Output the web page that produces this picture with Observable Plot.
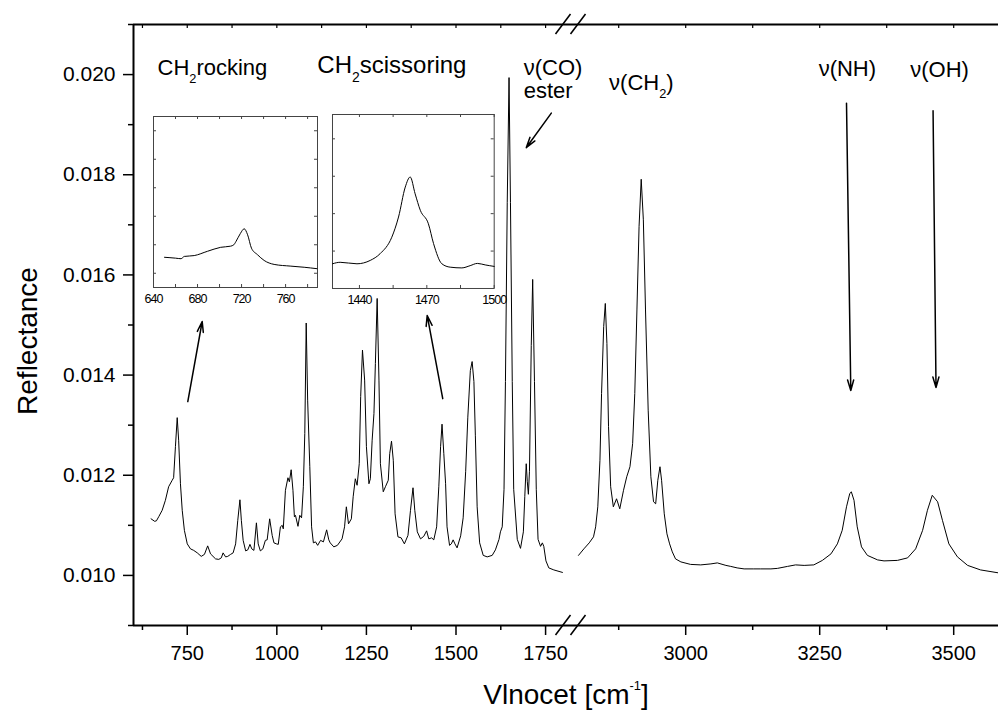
<!DOCTYPE html>
<html><head><meta charset="utf-8">
<script src="https://cdn.jsdelivr.net/npm/d3@7"></script>
<script src="https://cdn.jsdelivr.net/npm/@observablehq/plot@0.6"></script>
<style>
body{margin:0;background:#fff;}
#wrap{position:relative;width:998px;height:711px;overflow:hidden;background:#fff;}
#wrap svg{position:absolute;}
</style></head><body><div id="wrap"></div>
<script>
// ---------- data ----------
const leftW = [649,659,664,671,680,689,698,708,712,717,
  722,726,731,736,742,750,759,768,778,789,
  798,807,815,829,838,845,850,857,863,871,
  878,885,891,897,901,906,913,919,925,930,
  936,943,948,954,961,968,973,980,987,992,
  999,1004,1010,1015,1018,1024,1031,1035,1040,1045,
  1049,1052,1059,1064,1069,1074,1078,1082,1086,1092,
  1097,1102,1108,1114,1122,1130,1139,1145,1149,1159,
  1169,1182,1189,1194,1200,1208,1213,1219,1224,1230,
  1234,1239,1245,1250,1257,1261,1266,1271,1275,1280,
  1285,1289,1297,1303,1311,1315,1320,1325,1330,1338,
  1347,1356,1366,1373,1380,1385,1392,1401,1410,1418,
  1424,1432,1438,1446,1452,1457,1461,1466,1471,1475,
  1482,1487,1492,1497,1503,1513,1520,1527,1533,1540,
  1545,1550,1554,1559,1566,1576,1587,1601,1610,1620,
  1624,1629,1634,1638,1643,1648,1652,1657,1661,1671,
  1680,1688,1692,1696,1699,1702,1705,1710,1714,1719,
  1724,1729,1736,1741,1745,1751,1759,1773,1797];
const leftR = [.01113,.01108,.01109,.01118,.01130,.01150,.01177,.01190,.01195,.01257,
  .01315,.01270,.01183,.01130,.01090,.01063,.01053,.01050,.01045,.01038,
  .01042,.01059,.01043,.01033,.01032,.01035,.01045,.01037,.01038,.01042,
  .01045,.01063,.01110,.01151,.01110,.01070,.01049,.01051,.01062,.01053,
  .01050,.01105,.01063,.01049,.01053,.01070,.01071,.01113,.01080,.01065,
  .01063,.01062,.01097,.01100,.01093,.01170,.01195,.01187,.01211,.01170,
  .01117,.01120,.01098,.01120,.01115,.01177,.01283,.01504,.01350,.01217,
  .01097,.01065,.01067,.01060,.01070,.01067,.01091,.01071,.01065,.01057,
  .01060,.01073,.01097,.01137,.01103,.01113,.01157,.01193,.01180,.01223,
  .01357,.01450,.01390,.01257,.01183,.01193,.01270,.01323,.01423,.01553,
  .01390,.01223,.01167,.01177,.01190,.01243,.01268,.01230,.01123,.01077,
  .01075,.01063,.01080,.01130,.01175,.01130,.01087,.01073,.01078,.01089,
  .01073,.01075,.01071,.01097,.01177,.01257,.01302,.01243,.01183,.01097,
  .01060,.01063,.01071,.01063,.01055,.01079,.01115,.01208,.01316,.01409,
  .01427,.01387,.01280,.01137,.01065,.01040,.01037,.01040,.01051,.01072,
  .01087,.01097,.01172,.01387,.01745,.01994,.01745,.01387,.01172,.01072,
  .01054,.01087,.01158,.01223,.01187,.01162,.01208,.01459,.01591,.01387,
  .01172,.01072,.01058,.01065,.01058,.01029,.01015,.01011,.01006];
const rightW = [2799,2810,2820,2828,2832,2836,2840,2843,2847,2850,
  2853,2856,2860,2865,2871,2877,2884,2890,2896,2901,
  2905,2909,2913,2917,2921,2925,2930,2935,2940,2944,
  2948,2952,2955,2960,2965,2970,2975,2981,2991,3009,
  3028,3047,3059,3075,3084,3096,3109,3127,3140,3159,
  3171,3190,3205,3221,3239,3255,3271,3283,3292,3300,
  3306,3309,3314,3320,3328,3339,3358,3370,3395,3414,
  3429,3442,3451,3460,3470,3479,3491,3507,3526,3550,3584];
const rightR = [.01040,.01053,.01065,.01077,.01097,.01137,.01230,.01363,.01497,.01543,
  .01463,.01297,.01177,.01137,.01153,.01133,.01170,.01197,.01217,.01263,
  .01363,.01530,.01697,.01791,.01710,.01530,.01330,.01197,.01147,.01143,
  .01190,.01217,.01190,.01123,.01083,.01063,.01047,.01033,.01027,.01022,
  .01021,.01023,.01025,.01020,.01018,.01015,.01013,.01013,.01013,.01013,
  .01014,.01018,.01021,.01020,.01021,.01030,.01043,.01063,.01090,.01137,
  .01163,.01167,.01150,.01097,.01057,.01040,.01031,.01029,.01030,.01035,
  .01053,.01090,.01130,.01160,.01147,.01110,.01063,.01037,.01020,.01011,.01005];

// inset spectra (arbitrary units)
const rockW = [650,660,665,668,677,689,701,710,713,715,719,722.4,725.5,729,734.5,740.5,749.6,764.8,776.9,788.5];
const rockR = [1.06,1.03,1.01,1.09,1.12,1.27,1.41,1.45,1.50,1.62,1.90,2.06,1.85,1.38,1.15,0.95,0.81,0.75,0.71,0.66];
const scisW = [1428,1431.4,1438.9,1444.8,1449.2,1454.4,1457.4,1460.4,1462.6,1464.8,1467.1,1470.7,1473,1476.7,1480.4,1485.6,1489.3,1492.5,1496,1500];
const scisR = [0.66,0.70,0.66,0.75,0.93,1.37,1.91,2.71,2.98,2.53,2.09,1.73,1.20,0.66,0.57,0.55,0.61,0.67,0.63,0.59];

// axes
const xSegments = [[600, 1800], [2800, 3600]];
const xMajor = [750, 1000, 1250, 1500, 1750, 3000, 3250, 3500];
const xMinor = [625, 875, 1125, 1375, 1625, 2875, 3125, 3375];
const yDomain = [0.009, 0.021];
const yMajor = [0.010, 0.012, 0.014, 0.016, 0.018, 0.020];
const yMinor = [0.009, 0.011, 0.013, 0.015, 0.017, 0.019, 0.021];
const xTitle = "Vlnocet [cm⁻¹]";
const yTitle = "Reflectance";

// annotations
const annText = ["CH₂rocking", "CH₂scissoring", "ν(CO)", "ester", "ν(CH₂)", "ν(NH)", "ν(OH)"];
const annX = [667, 1113, 1689, 1689, 2857, 3248, 3419];
const annY = [0.02000, 0.02003, 0.02000, 0.01954, 0.01970, 0.01998, 0.01996];
const annSize = [22, 24, 22, 22, 22, 22, 22];
const arrX1 = [751.5, 1463, 1766, 3300, 3461.5];
const arrY1 = [0.01347, 0.01353, 0.01923, 0.01943, 0.01928];
const arrX2 = [791.7, 1419.6, 1696, 3308, 3467];
const arrY2 = [0.01507, 0.01519, 0.01854, 0.01369, 0.01375];

// inset axes
const rockDomainX = [640, 789], rockDomainY = [0, 6];
const rockTicksAll = [640, 660, 680, 700, 720, 740, 760, 780];
const rockTicksLab = [640, 680, 720, 760];
const rockTicksY = [0.5, 1.5, 2.5, 3.5, 4.5, 5.5];
const scisDomainX = [1428, 1500], scisDomainY = [0, 4.65];
const scisTicksAll = [1440, 1455, 1470, 1485, 1500];
const scisTicksLab = [1440, 1470, 1500];
const scisTicksY = [1, 2, 3, 4];

// ---------- rendering ----------
const FONT = '"Liberation Sans", Arial, Helvetica, sans-serif';
const wrap = document.getElementById("wrap");
const rows = (w, r) => w.map((d, i) => ({w: d, r: r[i]}));
const leftData = rows(leftW, leftR), rightData = rows(rightW, rightR);
const ann = annText.map((t, i) => ({t, x: annX[i], y: annY[i], s: annSize[i]}));
const arrows = arrX1.map((d, i) => ({x1: d, y1: arrY1[i], x2: arrX2[i], y2: arrY2[i]}));

const chart = Plot.plot({
  width: 998, height: 711,
  marginLeft: 133, marginRight: 0, marginTop: 24, marginBottom: 86,
  style: {fontFamily: FONT, fontSize: "20px", background: "transparent", color: "black", overflow: "visible"},
  x: {type: "linear", domain: [xSegments[0][0], xSegments[0][1], xSegments[1][0], xSegments[1][1]], range: [133, 563, 578, 1006.8]},
  y: {domain: yDomain, range: [625, 24]},
  marks: [
    Plot.ruleX([xSegments[0][0]], {strokeWidth: 2}),
    Plot.ruleY(yDomain, {strokeWidth: 2}),
    Plot.axisY(yMajor, {tickSize: 10, tickPadding: 8, strokeWidth: 1.5, tickFormat: d3.format(".3f"), fontSize: 21, label: null}),
    Plot.axisY(yMinor, {tickSize: 5, strokeWidth: 1.5, fill: "none", label: null}),
    Plot.axisX(xMajor, {tickSize: 10, tickPadding: 10, strokeWidth: 1.5, tickFormat: d3.format("d"), fontSize: 20, label: null}),
    Plot.axisX(xMinor, {tickSize: 5, strokeWidth: 1.5, fill: "none", label: null}),
    Plot.ruleX(xMajor.concat(xMinor), {y1: yDomain[1], y2: yDomain[1], insetBottom: -4, strokeWidth: 1.2}),
    Plot.line(leftData, {x: "w", y: "r", stroke: "black", strokeWidth: 1}),
    Plot.line(rightData, {x: "w", y: "r", stroke: "black", strokeWidth: 1}),
    Plot.arrow(arrows, {x1: "x1", y1: "y1", x2: "x2", y2: "y2", stroke: "black", strokeWidth: 1.5, headLength: 11, headAngle: 32}),
    Plot.text(ann, {x: "x", y: "y", text: "t", fontSize: "s", textAnchor: "start", lineAnchor: "bottom"}),
    Plot.text([yTitle], {text: d => d, frameAnchor: "left", rotate: -90, dx: -97, dy: 16, textAnchor: "middle", lineAnchor: "bottom", fontSize: 28}),
    Plot.text([xTitle], {text: d => d, frameAnchor: "bottom", dy: 78, textAnchor: "middle", lineAnchor: "bottom", fontSize: 28})
  ]
});
chart.style.left = "0px"; chart.style.top = "0px";
wrap.appendChild(chart);

// axis-break marks, placed through the chart's own scales
{
  const sx = chart.scale("x"), sy = chart.scale("y");
  const g = d3.select(chart).append("g").attr("stroke", "black").attr("stroke-width", 1.6);
  for (const b of [xSegments[0][1], xSegments[1][0]]) {
    for (const yv of yDomain) {
      const cx = sx.apply(b), cy = sy.apply(yv);
      g.append("line").attr("x1", cx - 7.5).attr("y1", cy + 10).attr("x2", cx + 7.5).attr("y2", cy - 10);
    }
  }
}

// subscripts / superscripts as real tspans
function richText(svg) {
  d3.select(svg).selectAll("text").each(function() {
    const s = this.textContent;
    if (!/₂|⁻¹/.test(s)) return;
    const fs = parseFloat(getComputedStyle(this).fontSize) || 22;
    const parts = s.split(/(₂|⁻¹)/).filter(p => p);
    const el = d3.select(this); el.text(null);
    let pending = 0;
    for (const p of parts) {
      const t = el.append("tspan");
      if (p === "₂") { t.attr("dy", 0.38 * fs).attr("font-size", 0.58 * fs).text("2"); pending = -0.38 * fs; }
      else if (p === "⁻¹") { t.attr("dy", -0.5 * fs).attr("font-size", 0.46 * fs).text("-1"); pending = 0.5 * fs; }
      else { if (pending) t.attr("dy", pending); t.text(p); pending = 0; }
    }
  });
}
richText(chart);

function inset(w, r, dx, dy, ticksAll, ticksLab, ticksY, left, top, pw, ph) {
  const mL = 20, mR = 20, mT = 10, mB = 26;
  const p = Plot.plot({
    width: pw + mL + mR, height: ph + mT + mB,
    marginLeft: mL, marginRight: mR, marginTop: mT, marginBottom: mB,
    style: {fontFamily: FONT, fontSize: "12px", background: "transparent", letterSpacing: "-1px", color: "black", overflow: "visible"},
    x: {domain: dx, axis: null}, y: {domain: dy, axis: null},
    marks: [
      Plot.frame({stroke: "#444", strokeWidth: 1}),
      Plot.ruleX(ticksAll, {y1: dy[0], y2: dy[0], insetTop: -3, stroke: "#444"}),
      Plot.ruleX(ticksAll, {y1: dy[1], y2: dy[1], insetBottom: -3, stroke: "#444"}),
      Plot.ruleY(ticksY, {x1: dx[0], x2: dx[0], insetRight: -3, stroke: "#444"}),
      Plot.ruleY(ticksY, {x1: dx[1], x2: dx[1], insetLeft: -3, stroke: "#444"}),
      Plot.axisX(ticksLab, {tickSize: 0, tickPadding: 7, tickFormat: d3.format("d"), fontSize: 12.5, label: null}),
      Plot.line(rows(w, r), {x: "w", y: "r", stroke: "black", strokeWidth: 1, curve: "monotone-x"})
    ]
  });
  p.style.left = (left - mL) + "px"; p.style.top = (top - mT) + "px";
  wrap.appendChild(p);
}
inset(rockW, rockR, rockDomainX, rockDomainY, rockTicksAll, rockTicksLab, rockTicksY, 152.7, 116, 164, 171);
inset(scisW, scisR, scisDomainX, scisDomainY, scisTicksAll, scisTicksLab, scisTicksY, 332.3, 114, 161.7, 174);
</script></body></html>
